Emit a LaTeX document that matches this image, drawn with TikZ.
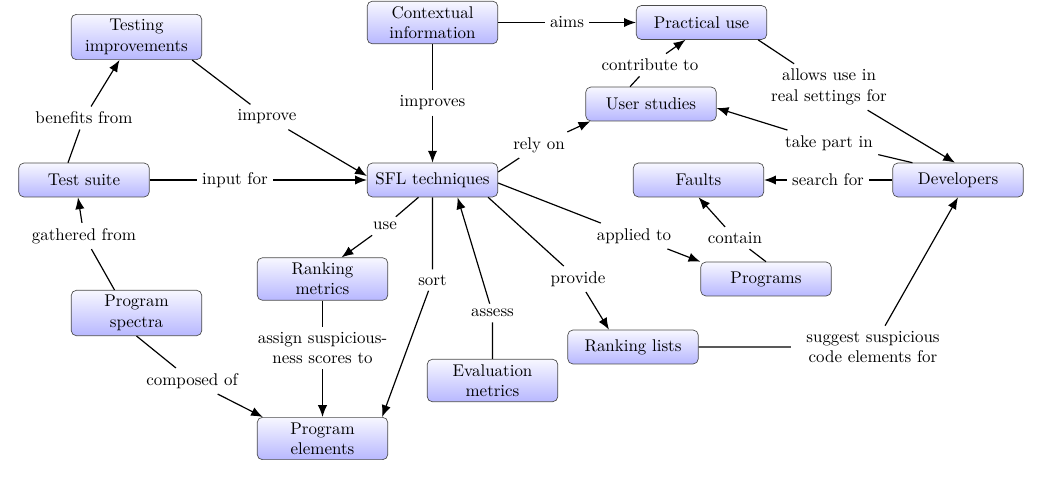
\documentclass[tikz,border=0pt]{standalone}
\usetikzlibrary{arrows.meta,calc}
\begin{document}
\begin{tikzpicture}[x=0.59pt,y=-0.59pt,
  box/.style={draw=black!70, rounded corners=3pt, top color=blue!3, bottom color=blue!28,
    minimum width=77pt, minimum height=20pt, align=center, inner sep=3pt},
  lbl/.style={align=center, inner sep=3pt},
  arr/.style={-{Latex[length=7pt,width=5.5pt]}, line width=0.7pt}]
\useasboundingbox (0,0) rectangle (1050,480);
% concept nodes
\node[box] (ti) at (136.5,37) {Testing\\improvements};
\node[box] (ci) at (432.5,22.5) {Contextual\\information};
\node[box] (pu) at (701.5,22.5) {Practical use};
\node[box] (us) at (651,104) {User studies};
\node[box] (ts) at (84,180) {Test suite};
\node[box] (sfl) at (432.5,180) {SFL techniques};
\node[box] (f) at (698.5,180) {Faults};
\node[box] (d) at (958,180) {Developers};
\node[box] (rm) at (322.5,279) {Ranking\\metrics};
\node[box] (ps) at (136.5,313) {Program\\spectra};
\node[box] (em) at (492.5,380.5) {Evaluation\\metrics};
\node[box] (pe) at (322.5,438.5) {Program\\elements};
\node[box] (p) at (766,279) {Programs};
\node[box] (rl) at (633,347) {Ranking lists};
% link labels
\node[lbl] (l1) at (84,118) {benefits from};
\node[lbl] (l2) at (267,117) {improve};
\node[lbl] (l3) at (235,180) {input for};
\node[lbl] (l4) at (432.5,103) {improves};
\node[lbl] (l5) at (567,22.5) {aims};
\node[lbl] (l6) at (650,65) {contribute to};
\node[lbl] (l7) at (829,87) {allows use in\\real settings for};
\node[lbl] (l8) at (829,143) {take part in};
\node[lbl] (l9) at (828,180) {search for};
\node[lbl] (l10) at (735,238) {contain};
\node[lbl] (l11) at (539,145) {rely on};
\node[lbl] (l12) at (634,236) {applied to};
\node[lbl] (l13) at (578,279) {provide};
\node[lbl] (l14) at (385,226) {use};
\node[lbl] (l15) at (432.5,280) {sort};
\node[lbl] (l16) at (492.5,313) {assess};
\node[lbl] (l17) at (322.5,348) {assign suspicious-\\ness scores to};
\node[lbl] (l18) at (84,236) {gathered from};
\node[lbl] (l19) at (192,381) {composed of};
\node[lbl,inner xsep=9pt] (l20) at (873,347) {suggest suspicious\\code elements for};
% connectors
\draw[arr] ($(ts.north)+(-16,0)$) -- (l1) -- ($(ti.south)+(-17,0)$);
\draw[arr] ($(ti.south east)+(-10,0)$) -- (l2) -- ($(sfl.west)+(0,-4)$);
\draw[arr] (ts.east) -- (l3) -- (sfl.west);
\draw[arr] (ci.south) -- (l4) -- (sfl.north);
\draw[arr] (ci.east) -- (l5) -- (pu.west);
\draw[arr] ($(us.north)+(-21,0)$) -- (l6) -- ($(pu.south)+(-16,0)$);
\draw[arr] ($(pu.south east)+(-9,0)$) -- (l7) -- ($(d.north)+(-3,0)$);
\draw[arr] ($(d.north west)+(20,0)$) -- (l8) -- ($(us.east)+(0,4)$);
\draw[arr] (d.west) -- (l9) -- (f.east);
\draw[arr] (p.north) -- (l10) -- (f.south);
\draw[arr] ($(sfl.east)+(0,-8)$) -- (l11) -- ($(us.south west)+(5,0)$);
\draw[arr] ($(sfl.east)+(0,3)$) -- (l12) -- (p.north west);
\draw[arr] ($(sfl.south east)+(-10,0)$) -- (l13) -- ($(rl.north)+(-24,0)$);
\draw[arr] ($(sfl.south)+(-14,0)$) -- (l14) -- ($(rm.north)+(19,0)$);
\draw[arr] (sfl.south) -- (l15) -- ($(pe.north east)+(-6,0)$);
\draw[arr] (em.north) -- (l16) -- ($(sfl.south)+(25,0)$);
\draw[arr] (rm.south) -- (l17) -- (pe.north);
\draw[arr] ($(ps.north)+(-22,0)$) -- (l18) -- ($(ts.south)+(-6,0)$);
\draw[arr] (ps.south) -- (l19) -- ($(pe.north west)+(6,0)$);
\draw[arr] (rl.east) -- (l20) -- (d.south);
\end{tikzpicture}
\end{document}
